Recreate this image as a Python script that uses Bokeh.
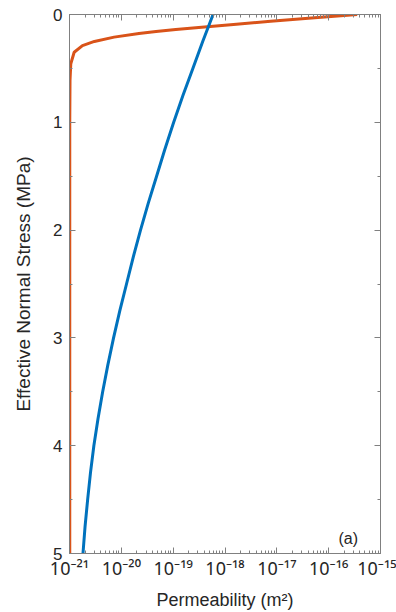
from bokeh.plotting import figure
from bokeh.models import Range1d, FixedTicker, LogAxis, LinearAxis, Label
from bokeh.embed import file_html
from bokeh.resources import INLINE

# ---- data (permeability given as log10 of m^2) ----
stress_blue = [0.0, 0.25, 0.5, 0.75, 1.0, 1.25, 1.5, 1.75, 2.0, 2.25, 2.5, 2.75,
               3.0, 3.25, 3.5, 3.75, 4.0, 4.25, 4.5, 4.75, 5.0]
logk_blue = [-18.23, -18.43, -18.62, -18.81, -18.99, -19.16, -19.32, -19.48, -19.63,
             -19.77, -19.90, -20.03, -20.15, -20.26, -20.36, -20.45, -20.53, -20.595,
             -20.65, -20.70, -20.74]

stress_red = [0.0, 0.03, 0.062, 0.09, 0.114, 0.14, 0.158, 0.176, 0.21, 0.25, 0.288,
              0.35, 0.457, 0.61, 1.0, 5.0]
logk_red = [-15.45, -16.27, -17.12, -17.78, -18.34, -18.95, -19.33, -19.66, -20.14,
            -20.52, -20.75, -20.91, -20.975, -20.99, -20.995, -20.995]

x_decades = [-21, -20, -19, -18, -17, -16, -15]
x_tick_labels = ["10⁻²¹", "10⁻²⁰", "10⁻¹⁹", "10⁻¹⁸", "10⁻¹⁷", "10⁻¹⁶", "10⁻¹⁵"]
y_ticks = [0, 1, 2, 3, 4, 5]
y_minor = [0.5, 1.5, 2.5, 3.5, 4.5]

BLUE = "#0072BD"
RED = "#D95319"
AXC = "#808080"
TXT = "#262626"
FONT = "Liberation Sans"
SUPFONT = "Noto Sans"

k_blue = [10.0 ** v for v in logk_blue]
k_red = [10.0 ** v for v in logk_red]
major_x = [10.0 ** d for d in x_decades]
minor_x = [m * 10.0 ** d for d in x_decades[:-1] for m in range(2, 10)]

p = figure(width=396, height=612, x_axis_type="log",
           x_range=Range1d(major_x[0], major_x[-1]), y_range=Range1d(5, 0),
           output_backend="svg", toolbar_location=None,
           min_border_left=69, min_border_right=16, min_border_top=14, min_border_bottom=59)
p.grid.visible = False
p.background_fill_color = "white"
p.border_fill_color = "white"
p.outline_line_color = AXC
p.outline_line_width = 1

p.line(k_red, stress_red, line_color=RED, line_width=3)
p.line(k_blue, stress_blue, line_color=BLUE, line_width=3)

xt = FixedTicker(ticks=major_x, minor_ticks=minor_x)
yt = FixedTicker(ticks=y_ticks, minor_ticks=y_minor)

def style(ax):
    ax.axis_line_color = AXC
    ax.major_tick_line_color = AXC
    ax.minor_tick_line_color = AXC
    ax.major_tick_in = 6
    ax.major_tick_out = 0
    ax.minor_tick_in = 3
    ax.minor_tick_out = 0
    ax.major_label_text_font = FONT
    ax.major_label_text_color = TXT
    ax.axis_label_text_font = FONT
    ax.axis_label_text_color = TXT
    ax.axis_label_text_font_style = "normal"

xa = p.xaxis[0]
xa.ticker = xt
xa.major_label_overrides = {v: s for v, s in zip(major_x, x_tick_labels)}
xa.axis_label = "Permeability (m²)"
style(xa)
xa.major_label_text_font = SUPFONT
xa.major_label_text_font_size = "18px"
xa.axis_label_text_font_size = "18px"
xa.major_label_standoff = 2
xa.axis_label_standoff = 7

ya = p.yaxis[0]
ya.ticker = yt
ya.axis_label = "Effective Normal Stress (MPa)"
style(ya)
ya.major_label_text_font_size = "17px"
ya.axis_label_text_font_size = "19px"
ya.major_label_standoff = 7
ya.axis_label_standoff = 16

top = LogAxis(ticker=xt, major_label_overrides={v: "" for v in major_x})
style(top)
top.major_label_standoff = 0
top.major_label_text_font_size = "1px"
p.add_layout(top, "above")

right = LinearAxis(ticker=yt, major_label_overrides={v: "" for v in y_ticks})
style(right)
right.major_label_standoff = 0
right.major_label_text_font_size = "1px"
p.add_layout(right, "right")

p.add_layout(Label(x=10 ** -15.81, y=4.86, text="(a)", text_font=FONT,
                   text_font_size="16px", text_color=TXT, text_baseline="alphabetic"))

open("out.html", "w").write(file_html(p, INLINE))
